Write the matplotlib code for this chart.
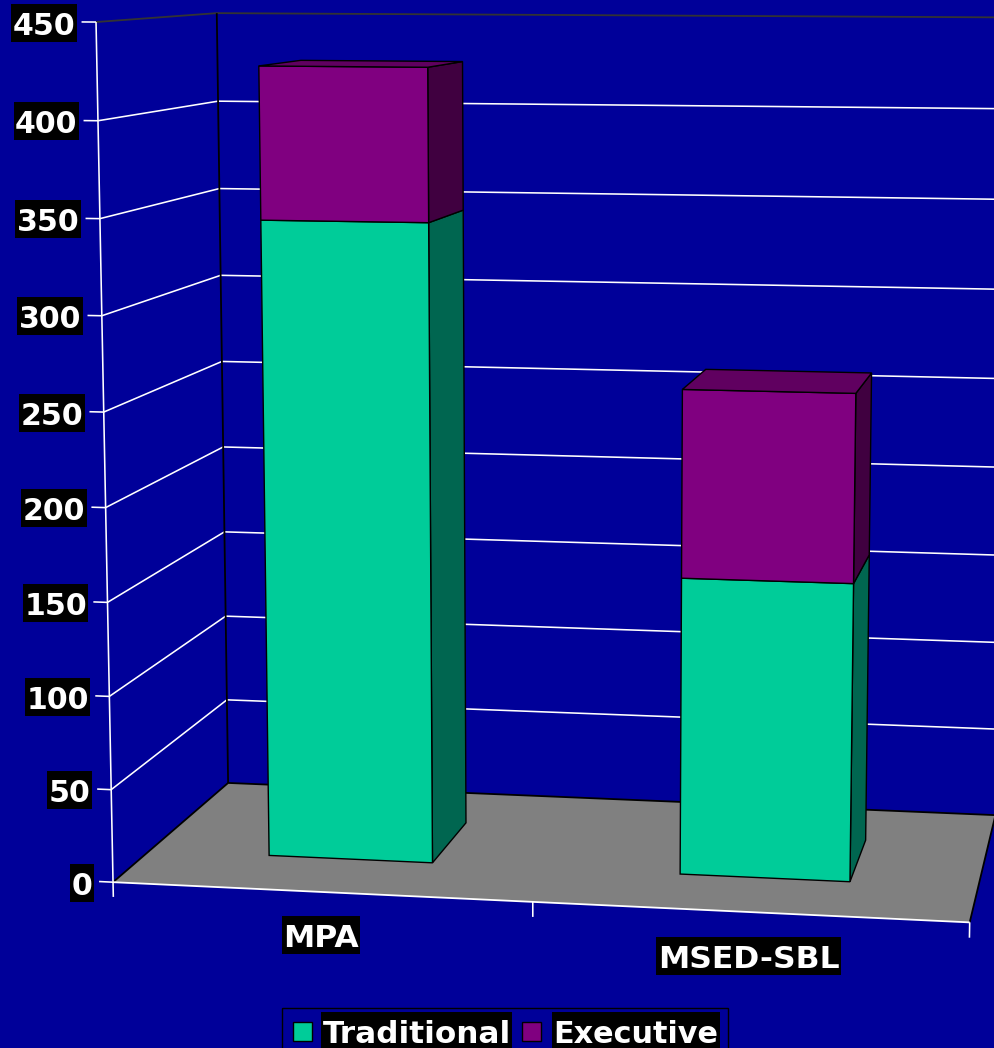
import numpy as np
import matplotlib
matplotlib.use("Agg")
import matplotlib.pyplot as plt
from matplotlib.patches import Polygon, Rectangle

# Enrollment by programme
categories = ["MPA", "MSED-SBL"]
traditional = [345, 160]
executive = [81, 100]
value_ticks = [0, 50, 100, 150, 200, 250, 300, 350, 400, 450]
series_names = ["Traditional", "Executive"]

W, H = 995, 1048
VALUE_MAX = 450
BG = "#000099"
GREEN, GREEN_SIDE = "#00CC99", "#006650"
PURPLE, PURPLE_SIDE, PURPLE_TOP = "#800080", "#400040", "#600060"
FLOOR = "#808080"
BAR_WIDTH = 0.2013
BAR_FRONT, BAR_BACK = 0.300, 0.693
FONT = dict(family="DejaVu Sans", fontweight="bold", fontsize=21.6, color="white")

# Perspective camera: (x across, depth, value fraction, 1) -> homogeneous screen position
CAMERA = np.array([
    [818.560992, 141.95281, -20.43467, 113.027221],
    [3.963885, -7.042417, -860.931277, 882.180973],
    [-0.039294, 0.117773, -0.035743, 1.0],
])


def project(x, depth, value):
    h = CAMERA @ np.array([x, depth, value / VALUE_MAX, 1.0])
    return h[0] / h[2], h[1] / h[2]


fig = plt.figure(figsize=(W / 100, H / 100), dpi=100, facecolor=BG)
ax = fig.add_axes([0, 0, 1, 1])
ax.set_xlim(0, W)
ax.set_ylim(H, 0)
ax.axis("off")
renderer = fig.canvas.get_renderer()


def line3(points, color="white", lw=1.15, z=2):
    xy = np.array([project(*p) for p in points])
    ax.plot(xy[:, 0], xy[:, 1], color=color, lw=lw, zorder=z, solid_capstyle="butt")


def face(points, color, z):
    ax.add_patch(Polygon([project(*p) for p in points], closed=True, facecolor=color,
                         edgecolor="black", lw=1.0, joinstyle="miter", zorder=z))


def boxed_label(x, baseline, text, ha="center", size=None):
    """White bold text on a black strip of fixed height."""
    opts = dict(FONT)
    if size:
        opts["fontsize"] = size
    t = ax.text(x, baseline, text, ha=ha, va="baseline", zorder=9, **opts)
    ext = t.get_window_extent(renderer)
    ax.add_patch(Rectangle((ext.x0 - 1.5, baseline - 31), ext.width + 3, 38,
                           facecolor="black", edgecolor="none", zorder=8))


# Floor and walls
floor = [(0, 0, 0), (1, 0, 0), (1, 1, 0), (0, 1, 0)]
ax.add_patch(Polygon([project(*p) for p in floor], closed=True, facecolor=FLOOR,
                     edgecolor="none", zorder=1))
for v in value_ticks[1:-1]:
    line3([(-0.017, 0, v), (0, 0, v), (0, 1, v), (1.05, 1, v)])
line3([(-0.017, 0, 0), (0, 0, 0)])
line3([(-0.017, 0, VALUE_MAX), (0, 0, VALUE_MAX)])
line3([(0, 0, VALUE_MAX), (0, 1, VALUE_MAX), (1.05, 1, VALUE_MAX)], color="#333333", lw=1.3)
line3([(0, 1, 0), (0, 1, VALUE_MAX)], color="black", lw=1.3, z=3)
line3([(0, 0, 0), (0, 1, 0), (1, 1, 0), (1, 0, 0)], color="black", lw=1.3, z=3)
line3([(0, 0, -8), (0, 0, VALUE_MAX)], z=3)
line3([(0, 0, 0), (1, 0, 0)], lw=1.3, z=3)
for x_tick in (0.5, 1.0):
    line3([(x_tick, 0, -8), (x_tick, 0, 0)], z=3)

# Stacked bars
centers = [0.249, 0.7496]
for i, cx in enumerate(centers):
    x0, x1 = cx - BAR_WIDTH / 2, cx + BAR_WIDTH / 2
    d0, d1 = BAR_FRONT, BAR_BACK
    base, mid, top = 0, traditional[i], traditional[i] + executive[i]
    z = 4
    for lo, hi, front_c, side_c in ((base, mid, GREEN, GREEN_SIDE), (mid, top, PURPLE, PURPLE_SIDE)):
        face([(x1, d0, lo), (x1, d1, lo), (x1, d1, hi), (x1, d0, hi)], side_c, z)
        face([(x0, d0, lo), (x1, d0, lo), (x1, d0, hi), (x0, d0, hi)], front_c, z + 0.1)
    face([(x0, d0, top), (x1, d0, top), (x1, d1, top), (x0, d1, top)], PURPLE_TOP, z + 0.2)

# Value axis labels
for v in value_ticks:
    px, py = project(0, 0, v)
    boxed_label(px - 20.5, py + 12.5, str(v), ha="right")

# Category labels under the floor
boxed_label(321, 947, categories[0], size=22.6)
boxed_label(748.5, 968, categories[1], size=22.6)

# Legend
ax.add_patch(Rectangle((282, 1008), 446, 60, facecolor="none", edgecolor="black", lw=1.0, zorder=7))
legend_rows = ((293, 322.5, series_names[0], GREEN, 22.4), (522, 553.5, series_names[1], PURPLE, 21.8))
for swatch_x, text_x, name, color, size in legend_rows:
    ax.add_patch(Rectangle((swatch_x, 1022), 19, 19, facecolor=color, edgecolor="black", lw=1.0, zorder=8))
    boxed_label(text_x, 1043, name, ha="left", size=size)

fig.savefig("out.png", dpi=100, facecolor=BG)
